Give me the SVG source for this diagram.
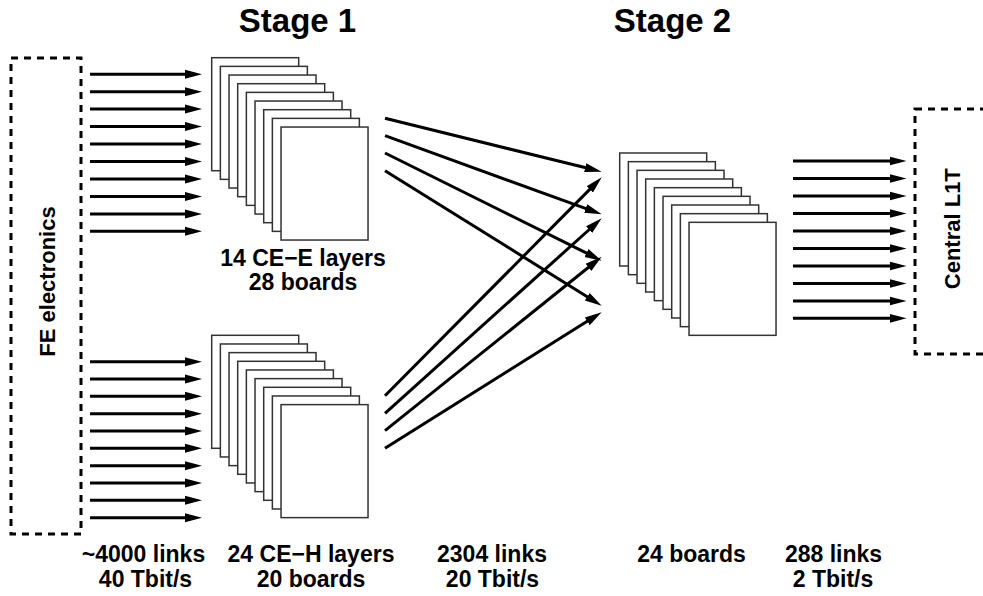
<svg xmlns="http://www.w3.org/2000/svg" width="983" height="596" viewBox="0 0 983 596">
<style>
.t{font-family:"Liberation Sans",Arial,sans-serif;font-weight:bold;fill:#000}
.lbl{font-size:23px;text-anchor:middle}
.big{font-size:33px;text-anchor:middle}
.rot{font-size:22px;text-anchor:middle}
.dash{fill:none;stroke:#000;stroke-width:3;stroke-dasharray:7,6}
.board{fill:#fff;stroke:#333;stroke-width:1.5}
.ar{stroke:#000;stroke-width:3;fill:none;marker-end:url(#ah)}
</style>
<defs>
<marker id="ah" markerUnits="userSpaceOnUse" markerWidth="20" markerHeight="12" viewBox="0 -6 20 12" refX="7" refY="0" orient="auto">
<path d="M0,-4.5 L17,0 L0,4.5 z" fill="#000"/>
</marker>
<g id="stack">
<rect class="board" x="0" y="0" width="87" height="113"/>
<rect class="board" x="8.67" y="8.67" width="87" height="113"/>
<rect class="board" x="17.33" y="17.33" width="87" height="113"/>
<rect class="board" x="26" y="26" width="87" height="113"/>
<rect class="board" x="34.67" y="34.67" width="87" height="113"/>
<rect class="board" x="43.33" y="43.33" width="87" height="113"/>
<rect class="board" x="52" y="52" width="87" height="113"/>
<rect class="board" x="60.67" y="60.67" width="87" height="113"/>
<rect class="board" x="69.33" y="69.33" width="87" height="113"/>
</g>
</defs>
<rect width="983" height="596" fill="#fff"/>

<text class="t big" x="297.5" y="32">Stage 1</text>
<text class="t big" x="672.5" y="32">Stage 2</text>

<g id="fe">
<rect class="dash" x="11" y="58" width="70" height="476"/>
<text class="t rot" transform="translate(55,281.5) rotate(-90)">FE electronics</text>
</g>

<g id="central">
<rect class="dash" x="915" y="109" width="100" height="245"/>
<text class="t rot" transform="translate(960,228.7) rotate(-90)">Central L1T</text>
</g>

<g id="stage1-ee">
<use href="#stack" x="211.7" y="57.7"/>
<text class="t lbl" x="303" y="265.7">14 CE−E layers</text>
<text class="t lbl" x="303" y="290">28 boards</text>
</g>

<g id="stage1-eh">
<use href="#stack" x="211.7" y="335.3"/>
</g>

<g id="stage2">
<use href="#stack" x="619.7" y="153"/>
</g>

<g id="connectors">
<line class="ar" x1="90" y1="74.3" x2="192" y2="74.3"/>
<line class="ar" x1="90" y1="91.7" x2="192" y2="91.7"/>
<line class="ar" x1="90" y1="109" x2="192" y2="109"/>
<line class="ar" x1="90" y1="126.5" x2="192" y2="126.5"/>
<line class="ar" x1="90" y1="144" x2="192" y2="144"/>
<line class="ar" x1="90" y1="161.5" x2="192" y2="161.5"/>
<line class="ar" x1="90" y1="179" x2="192" y2="179"/>
<line class="ar" x1="90" y1="196.5" x2="192" y2="196.5"/>
<line class="ar" x1="90" y1="214" x2="192" y2="214"/>
<line class="ar" x1="90" y1="231.3" x2="192" y2="231.3"/>

<line class="ar" x1="90" y1="361.7" x2="192" y2="361.7"/>
<line class="ar" x1="90" y1="379" x2="192" y2="379"/>
<line class="ar" x1="90" y1="396.3" x2="192" y2="396.3"/>
<line class="ar" x1="90" y1="413.7" x2="192" y2="413.7"/>
<line class="ar" x1="90" y1="431" x2="192" y2="431"/>
<line class="ar" x1="90" y1="448.3" x2="192" y2="448.3"/>
<line class="ar" x1="90" y1="465.7" x2="192" y2="465.7"/>
<line class="ar" x1="90" y1="483" x2="192" y2="483"/>
<line class="ar" x1="90" y1="500.3" x2="192" y2="500.3"/>
<line class="ar" x1="90" y1="517.7" x2="192" y2="517.7"/>

<line class="ar" x1="385" y1="118.3" x2="592" y2="169.3"/>
<line class="ar" x1="385" y1="135.7" x2="592.3" y2="210.9"/>
<line class="ar" x1="385" y1="153" x2="592.7" y2="256.2"/>
<line class="ar" x1="385" y1="170.7" x2="593.2" y2="300.4"/>
<line class="ar" x1="385" y1="395.7" x2="594.7" y2="184.4"/>
<line class="ar" x1="385" y1="413.3" x2="594.3" y2="225"/>
<line class="ar" x1="385" y1="430.7" x2="593.9" y2="263"/>
<line class="ar" x1="385" y1="448.3" x2="593.2" y2="317.6"/>

<line class="ar" x1="793" y1="161" x2="896.5" y2="161"/>
<line class="ar" x1="793" y1="178.5" x2="896.5" y2="178.5"/>
<line class="ar" x1="793" y1="196" x2="896.5" y2="196"/>
<line class="ar" x1="793" y1="213.5" x2="896.5" y2="213.5"/>
<line class="ar" x1="793" y1="231" x2="896.5" y2="231"/>
<line class="ar" x1="793" y1="248.5" x2="896.5" y2="248.5"/>
<line class="ar" x1="793" y1="266" x2="896.5" y2="266"/>
<line class="ar" x1="793" y1="283.5" x2="896.5" y2="283.5"/>
<line class="ar" x1="793" y1="301" x2="896.5" y2="301"/>
<line class="ar" x1="793" y1="318.3" x2="896.5" y2="318.3"/>
</g>

<g id="labels">
<text class="t lbl" x="143.5" y="562">~4000 links</text>
<text class="t lbl" x="145.5" y="586.5">40 Tbit/s</text>
<text class="t lbl" x="311" y="562">24 CE−H layers</text>
<text class="t lbl" x="311" y="586.5">20 boards</text>
<text class="t lbl" x="492" y="562">2304 links</text>
<text class="t lbl" x="492.5" y="586.5">20 Tbit/s</text>
<text class="t lbl" x="691.5" y="562">24 boards</text>
<text class="t lbl" x="833.5" y="562">288 links</text>
<text class="t lbl" x="833" y="586.5">2 Tbit/s</text>
</g>
</svg>
